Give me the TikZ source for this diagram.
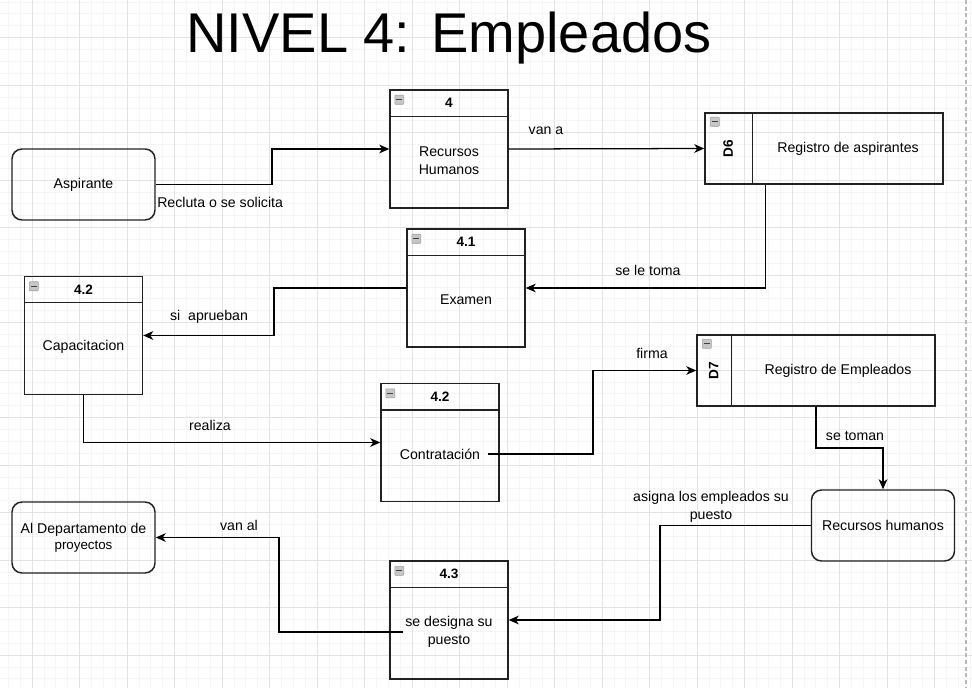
\documentclass[tikz,border=0pt]{standalone}
\usepackage{fontspec}
\setmainfont{Liberation Sans}
\usetikzlibrary{arrows.meta,calc}
\definecolor{gridminor}{HTML}{F5F5F5}
\definecolor{gridmajor}{HTML}{E3E3E3}
\definecolor{linec}{HTML}{222222}
\tikzset{
  boxline/.style={draw=linec, line width=1.1pt},
  procbox/.style={boxline, fill=none, minimum width=88.5pt, minimum height=88.5pt, inner sep=0pt},
  roundbox/.style={boxline, rounded corners=7.5pt, minimum width=107.25pt, minimum height=53.25pt, inner sep=0pt, align=center},
  storebox/.style={boxline, minimum width=178.5pt, minimum height=53.25pt, inner sep=0pt},
  hdr/.style={font=\fontsize{10.2}{12}\selectfont\bfseries, inner sep=0pt},
  bodytxt/.style={align=center, inner sep=0pt, font=\fontsize{10.6}{13}\selectfont},
  lbl/.style={align=center, inner sep=0pt, font=\fontsize{10.6}{13}\selectfont},
  flow/.style={draw=black, line width=0.95pt, -{Stealth[length=7.5pt,width=6.5pt,inset=2.2pt]}},
  collapseicon/.pic={
    \draw[draw=gray!75, fill=gray!45, line width=0.4pt, rounded corners=0.5pt] (-4.5,-4.5) rectangle (4.5,4.5);
    \draw[draw=black!75, line width=0.9pt] (-2.8,0) -- (2.8,0);
  }
}
\newcommand\dfdproc[5]{%
  \node[procbox] (#1) at (#2,#3) {};
  \draw[boxline] ($(#1.north west)+(0,27)$) -- ($(#1.north east)+(0,27)$);
  \node[hdr] (#1h) at ($(#1.north)+(0,14)$) {#4};
  \node[bodytxt] (#1b) at ($(#1.north)+(0,71.5)$) {#5};
  \pic at ($(#1.north west)+(10,10.5)$) {collapseicon};
}
\newcommand\dfdstore[7]{% name cx cy id text divider textcx
  \node[storebox] (#1) at (#2,#3) {};
  \draw[boxline] ($(#1.north west)+(#6,0)$) -- ($(#1.south west)+(#6,0)$);
  \node[hdr, rotate=90] (#1id) at ($(#1.west)+({#6/2},0)$) {#4};
  \node[bodytxt] (#1t) at (#7,#3) {#5};
  \pic at ($(#1.north west)+(10.5,9.5)$) {collapseicon};
}
\begin{document}
\begin{tikzpicture}[x=0.75pt,y=-0.75pt]
\useasboundingbox (0,0) rectangle (972,688);
\fill[white] (0,0) rectangle (972,688);
% grid
\foreach \i in {0,...,81} \draw[gridminor, line width=0.5pt] ({8.25+11.875*\i},0) -- ++(0,688);
\foreach \i in {0,...,57} \draw[gridminor, line width=0.5pt] (0,{1.875+11.875*\i}) -- ++(972,0);
\foreach \i in {0,...,19} \draw[gridmajor, line width=0.6pt] ({32+47.5*\i},0) -- ++(0,688);
\foreach \i in {0,...,13} \draw[gridmajor, line width=0.6pt] (0,{37.5+47.5*\i}) -- ++(972,0);
\draw[gray!55, line width=0.8pt, dash pattern=on 3pt off 2pt] (966,0) -- (966,688);

% title
\node[inner sep=0pt, font=\fontsize{42}{50}\selectfont] (title) at (449,38) {NIVEL 4: Empleados};

% external entities
\node[roundbox] (asp) at (83.5,184.5) {\fontsize{10.6}{13}\selectfont Aspirante};
\node[roundbox] (rh2) at (883,525.5) {\fontsize{10.6}{13}\selectfont Recursos humanos};
\node[roundbox] (dep) at (83.5,537.5) {\fontsize{10.6}{13}\selectfont Al Departamento de\\proyectos};

% processes
\dfdproc{p4}{449}{149}{4}{Recursos\\Humanos}
\dfdproc{ex}{466}{288}{4.1}{Examen}
\dfdproc{cap}{83.5}{335.5}{4.2}{Capacitacion}
\dfdproc{con}{440}{442.5}{4.2}{Contratación}
\dfdproc{p43}{449}{620}{4.3}{se designa su\\puesto}

% data stores
\dfdstore{d6}{824}{148.5}{D6}{Registro de aspirantes}{48}{848}
\dfdstore{d7}{816}{370.5}{D7}{Registro de Empleados}{35}{838}

% connectors
\draw[flow] (asp.east) -- (272,184.5) |- (p4.west);
\node[lbl, anchor=west] (l1) at (157,202) {Recluta o se solicita};

\draw[flow] (p4.east) -- (d6.west);
\node[lbl] (l2) at (546,131) {van a};

\coordinate (d6out) at ($(d6.south west)+(61,0)$);
\draw[flow] (d6out) |- (ex.east);
\node[lbl] (l3) at (648,270) {se le toma};

\draw[flow] (ex.west) -- (274,288) |- (cap.east);
\node[lbl] (l4) at (209,317) {si~ aprueban};

\draw[flow] (cap.south) |- (con.west);
\node[lbl] (l5) at (210,425) {realiza};

\coordinate (conout) at (488,454);
\draw[flow] (conout) -- (593,454) |- (d7.west);
\node[lbl] (l6) at (652,353) {firma};

\draw[flow] (d7.south) -- (816,448) -| (rh2.north);
\node[lbl] (l7) at (855,436) {se toman};

\draw[flow] (rh2.west) -- (660,525.5) |- (p43.east);
\node[lbl] (l8) at (711,507) {asigna los empleados su\\puesto};

\coordinate (p43out) at (403,632);
\draw[flow] (p43out) -- (279,632) |- (dep.east);
\node[lbl] (l9) at (239,525) {van al};
\end{tikzpicture}
\end{document}
